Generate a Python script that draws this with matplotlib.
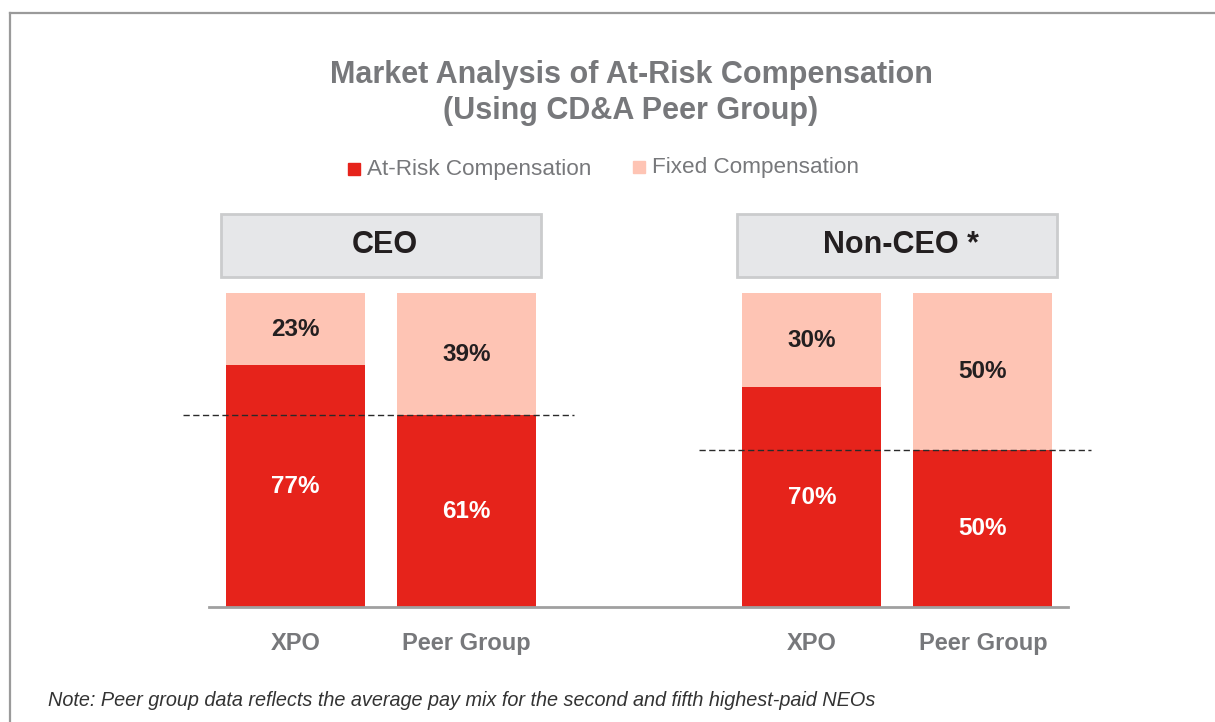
import matplotlib.pyplot as plt
import numpy as np
from matplotlib.patches import Rectangle
from matplotlib.lines import Line2D

plt.rcParams['font.family'] = ['Liberation Sans', 'DejaVu Sans']

# data
groups = ["CEO", "Non-CEO *"]
bar_names = ["XPO", "Peer Group"]
at_risk = [77, 61, 70, 50]
fixed = [23, 39, 30, 50]
series_names = ["At-Risk Compensation", "Fixed Compensation"]

RED = '#e6231b'
PINK = '#fec4b4'
GRAY = '#77787b'

W, H = 1215, 722
fig = plt.figure(figsize=(W/100, H/100), dpi=100)

def fx(x):
  return x/W
def fy(y):
  return 1 - y/H

# frame lines round the chart
fig.add_artist(Line2D([fx(10), 1], [fy(13), fy(13)], color='#9a9a9a', lw=1.6))
fig.add_artist(Line2D([fx(10), fx(10)], [fy(13), 0], color='#9a9a9a', lw=1.6))

ax = fig.add_axes([fx(209), fy(607), fx(1068)-fx(209), fy(293)-fy(607)])

gstep = 3.02
x = []
for g in range(len(groups)):
  for b in range(len(bar_names)):
    x.append(g*gstep + b)
x = np.array(x)
bw = 0.813

ax.bar(x, at_risk, width=bw, color=RED, zorder=2)
ax.bar(x, fixed, width=bw, bottom=at_risk, color=PINK, zorder=2)

for xi, a, f in zip(x, at_risk, fixed):
  ax.text(xi, a/2, f"{a}%", ha='center', va='center', color='white',
          fontsize=17.5, fontweight='bold', zorder=3)
  ax.text(xi, a + f/2, f"{f}%", ha='center', va='center', color='#231f20',
          fontsize=17.5, fontweight='bold', zorder=3)

ax.set_xlim(-0.506, 4.518)
ax.set_ylim(0, 100)
for s in ['top', 'right', 'left']:
  ax.spines[s].set_visible(False)
ax.spines['bottom'].set_color('#a0a0a0')
ax.spines['bottom'].set_linewidth(2)
ax.set_yticks([])
ax.set_xticks(x)
ax.set_xticklabels(bar_names*len(groups), fontsize=17, fontweight='bold', color=GRAY)
ax.tick_params(axis='x', length=0, pad=18)

# group headers and peer reference lines
for g, name in enumerate(groups):
  c = g*gstep + 0.5
  ax.add_patch(Rectangle((c - 0.936, 105.1), 1.872, 20.1, facecolor='#e6e7e9',
                         edgecolor='#cbcccd', lw=2, clip_on=False, zorder=2))
  ax.text(c + 0.02, 115.2, name, ha='center', va='center', fontsize=22,
          fontweight='bold', color='#231f20', clip_on=False)
  peer = at_risk[g*2 + 1]
  ax.plot([c - 1.16, c + 1.13], [peer, peer], color='#2a2a2a', lw=1,
          ls=(0, (4.5, 2.5)), clip_on=False, zorder=4)

# title
fig.text(fx(631), fy(75), "Market Analysis of At-Risk Compensation", ha='center',
         va='center', fontsize=22, fontweight='bold', color=GRAY)
fig.text(fx(631), fy(111), "(Using CD&A Peer Group)", ha='center',
         va='center', fontsize=22, fontweight='bold', color=GRAY)

# legend
fig.add_artist(Rectangle((fx(348), fy(175)), fx(12), fy(163)-fy(175), color=RED,
                         transform=fig.transFigure))
fig.text(fx(367), fy(169), series_names[0], ha='left', va='center', fontsize=16.2, color=GRAY)
fig.add_artist(Rectangle((fx(633), fy(173)), fx(12), fy(161)-fy(173), color=PINK,
                         transform=fig.transFigure))
fig.text(fx(652), fy(167), series_names[1], ha='left', va='center', fontsize=16.2, color=GRAY)

fig.text(fx(48), fy(701), "Note: Peer group data reflects the average pay mix for the second and fifth highest-paid NEOs",
         ha='left', va='center', fontsize=14.3, style='italic', color='#333333')

fig.savefig('out.png', dpi=100)
